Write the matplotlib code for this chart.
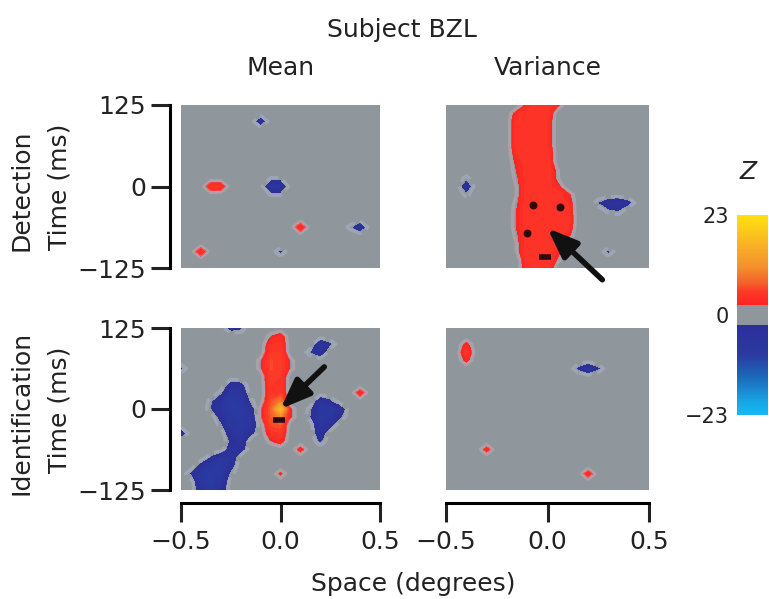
import numpy as np
import matplotlib
matplotlib.use("Agg")
import matplotlib.pyplot as plt
from matplotlib.colors import LinearSegmentedColormap, Normalize
from matplotlib.cm import ScalarMappable

plt.rcParams["font.family"] = "DejaVu Sans"

# sampling grid of the Z maps
x_grid = np.linspace(-0.5, 0.5, 21)      # space (degrees), 0.05 steps
t_grid = np.linspace(-125, 125, 21)      # time (ms), 12.5 ms steps

# Z values per grid row: (time, first x, values at consecutive x nodes); all other nodes are 0
mean_det_rows = [
    (100.0, -0.10, [-5]),
    (12.5, -0.05, [-1.5, -1.5]),
    (0.0, -0.35, [5, 4.5]),
    (0.0, -0.05, [-7, -7]),
    (-12.5, -0.05, [-1.5, -1.5]),
    (-62.5, 0.10, [5]),
    (-62.5, 0.35, [-2, -6]),
    (-100.0, -0.40, [5]),
    (-100.0, 0.0, [-3]),
]

var_det_rows = [
    (125.0, -0.10, [3, 5, 5, 3]),
    (112.5, -0.15, [3.5, 5, 5, 5]),
    (100.0, -0.15, [5, 5, 5, 4]),
    (87.5, -0.15, [5, 5, 5, 4]),
    (75.0, -0.15, [5, 5, 5, 4]),
    (62.5, -0.15, [5, 5, 5, 4]),
    (50.0, -0.15, [4, 5, 5, 5]),
    (37.5, -0.15, [3, 5, 5, 5]),
    (25.0, -0.15, [2.5, 5, 5, 5, 1.5]),
    (12.5, -0.15, [2, 5, 5, 5, 1.5]),
    (12.5, -0.40, [-2]),
    (0.0, -0.15, [1.5, 5, 5, 5, 3]),
    (0.0, -0.40, [-5]),
    (-12.5, -0.15, [1.5, 5, 5, 5, 5, 3]),
    (-12.5, -0.40, [-2]),
    (-25.0, -0.15, [2, 5, 5, 5, 5, 4]),
    (-25.0, 0.25, [-2.5, -5, -6, -3.5]),
    (-37.5, -0.15, [2.5, 5, 5, 5, 5, 4.5]),
    (-37.5, 0.30, [-2, -2.5]),
    (-50.0, -0.15, [2.5, 5, 5, 5, 5, 5]),
    (-62.5, -0.15, [2.5, 5, 5, 5, 5, 4.5]),
    (-75.0, -0.15, [2, 5, 5, 5, 5, 3]),
    (-87.5, -0.15, [1.5, 5, 5, 5, 5]),
    (-100.0, -0.15, [1.5, 5, 5, 5, 3]),
    (-100.0, 0.30, [-3]),
    (-112.5, -0.10, [5, 5, 5, 2]),
    (-125.0, -0.10, [4.5, 5, 5]),
]

mean_id_rows = [
    (125.0, -0.25, [-4, -3]),
    (112.5, -0.05, [2, 3.5]),
    (100.0, -0.05, [4, 4.5]),
    (100.0, 0.20, [-6, -3]),
    (87.5, -0.05, [5, 5]),
    (87.5, 0.15, [-2.5, -6]),
    (75.0, -0.10, [2, 6, 5.5, 2]),
    (62.5, -0.10, [2, 6, 5.5, 2]),
    (62.5, -0.50, [-3]),
    (50.0, -0.05, [5.5, 5]),
    (37.5, -0.25, [-4, -3.5]),
    (37.5, -0.05, [5, 5]),
    (25.0, -0.30, [-2, -7, -6.5]),
    (25.0, -0.05, [4.5, 5]),
    (25.0, 0.40, [4]),
    (12.5, -0.35, [-2, -5, -9, -8, -2]),
    (12.5, -0.05, [6, 9]),
    (12.5, 0.20, [-5, -3]),
    (0.0, -0.35, [-2.5, -6, -9, -9, -5]),
    (0.0, -0.10, [2, 7, 17, 2.5]),
    (0.0, 0.15, [-2, -7, -8, -5]),
    (-12.5, -0.30, [-4, -8, -9, -6]),
    (-12.5, -0.10, [2, 6.5, 10, 2.5]),
    (-12.5, 0.15, [-2.5, -8, -7, -3]),
    (-25.0, -0.30, [-2, -7, -8, -6]),
    (-25.0, -0.05, [6, 6.5]),
    (-25.0, 0.20, [-7, -4]),
    (-37.5, -0.50, [-5]),
    (-37.5, -0.25, [-5, -7, -4]),
    (-37.5, -0.05, [4, 5]),
    (-37.5, 0.20, [-5.5]),
    (-50.0, -0.25, [-3, -6]),
    (-50.0, -0.05, [2, 3.5]),
    (-50.0, 0.20, [-3]),
    (-62.5, -0.25, [-4.5, -4.5]),
    (-62.5, 0.10, [3.5]),
    (-75.0, -0.35, [-3, -7, -6]),
    (-87.5, -0.40, [-4, -8, -9, -4]),
    (-100.0, -0.45, [-3, -8, -9, -8, -2]),
    (-100.0, 0.0, [2.8]),
    (-112.5, -0.40, [-7, -9, -7]),
    (-125.0, -0.40, [-5, -8, -5]),
]

var_id_rows = [
    (100.0, -0.40, [3]),
    (87.5, -0.40, [5]),
    (75.0, -0.40, [3]),
    (62.5, 0.15, [-3, -7, -3]),
    (-62.5, -0.30, [3.5]),
    (-100.0, 0.20, [4]),
]

# dark spots inside the strongest regions
var_det_spots_x = [-0.07, 0.062, -0.103]
var_det_spots_t = [-28, -31, -72]
var_det_dash_x = [-0.012]
var_det_dash_t = [-108]
mean_id_dash_x = [-0.01]
mean_id_dash_t = [-17]

# arrows (tail -> head)
var_det_arrow = ((0.27, -143), (0.0, -64))
mean_id_arrow = ((0.22, 65), (0.0, 0.0))

z_limit = 23
z_ticks = [-23, 0, 23]


def to_grid(rows):
    z = np.zeros((t_grid.size, x_grid.size))
    for t, x0, vals in rows:
        i = int(round((t + 125) / 12.5))
        j = int(round((x0 + 0.5) / 0.05))
        z[i, j:j + len(vals)] = vals
    return z


cmap = LinearSegmentedColormap.from_list("zmap", [
    (0.0, "#17b8f2"),
    (0.06, "#16a8e8"),
    (0.18, "#1b6cbd"),
    (0.30, "#2a3aa2"),
    (0.4499, "#2c2f98"),
    (0.45, "#8f979c"),
    (0.55, "#8f979c"),
    (0.5501, "#ff2222"),
    (0.62, "#fb3a28"),
    (0.66, "#f5602a"),
    (0.74, "#f5902c"),
    (0.86, "#f8b424"),
    (0.93, "#fccc1a"),
    (1.0, "#ffe012"),
])
norm = Normalize(-z_limit, z_limit)
levels = np.r_[np.linspace(-23, -2.3, 24), np.linspace(2.3, 23, 24)]

fig = plt.figure(figsize=(7.69, 5.99), dpi=100)
W, H = 769, 599

panels = [
    (181, 105, 199, 163, mean_det_rows, "tl"),
    (446, 105, 203, 163, var_det_rows, "tr"),
    (181, 328, 199, 162, mean_id_rows, "bl"),
    (446, 328, 203, 162, var_id_rows, "br"),
]

axes = {}
for left, top, w, h, rows, key in panels:
    ax = fig.add_axes([left / W, 1 - (top + h) / H, w / W, h / H])
    z = to_grid(rows)
    ax.contourf(x_grid, t_grid, z, levels=levels, cmap=cmap, norm=norm)
    # pale rim just outside each significant region
    ax.contour(x_grid, t_grid, z, levels=[1.4], colors="#d6b0b8", linewidths=2.5, alpha=0.4)
    ax.contour(x_grid, t_grid, z, levels=[-1.4], colors="#b4b9d6", linewidths=2.5, alpha=0.4)
    ax.set_xlim(-0.5, 0.5)
    ax.set_ylim(-125, 125)
    for s in ["top", "right"]:
        ax.spines[s].set_visible(False)
    ax.tick_params(direction="out", length=14, width=2.2, labelsize=18, pad=3,
                   colors="#222222")
    if key[1] == "l":
        ax.spines["left"].set_position(("outward", 8))
        ax.spines["left"].set_linewidth(2.2)
        ax.set_yticks([-125, 0, 125], ["\u2212125", "0", "125"])
    else:
        ax.spines["left"].set_visible(False)
        ax.set_yticks([])
    if key[0] == "b":
        ax.spines["bottom"].set_position(("outward", 9))
        ax.spines["bottom"].set_linewidth(2.2)
        ax.set_xticks([-0.5, 0, 0.5], ["\u22120.5", "0.0", "0.5"])
        ax.tick_params(axis="x", pad=6)
    else:
        ax.spines["bottom"].set_visible(False)
        ax.set_xticks([])
    axes[key] = ax

ax = axes["tr"]
ax.scatter(var_det_spots_x, var_det_spots_t, s=22, color="#2a0c0c", zorder=3)
ax.plot(var_det_dash_x, var_det_dash_t, ls="none", marker="_", ms=9, mew=4,
        color="#2a0c0c", zorder=3)
ax = axes["bl"]
ax.plot(mean_id_dash_x, mean_id_dash_t, ls="none", marker="_", ms=9, mew=4,
        color="#2a0c0c", zorder=3)

for key, (tail, head) in [("tr", var_det_arrow), ("bl", mean_id_arrow)]:
    axes[key].annotate("", xy=head, xytext=tail, annotation_clip=False,
                       arrowprops=dict(arrowstyle="-|>,head_length=0.9,head_width=0.35",
                                       lw=4, color="#111111", shrinkA=0, shrinkB=0,
                                       mutation_scale=20, clip_on=False))

# colour bar
cax = fig.add_axes([737 / W, 1 - 415 / H, 31 / W, 200 / H])
cb = fig.colorbar(ScalarMappable(norm=norm, cmap=cmap), cax=cax)
cb.outline.set_visible(False)
cax.yaxis.set_ticks_position("left")
cax.set_yticks(z_ticks, ["\u221223", "0", "23"])
cax.tick_params(length=0, labelsize=15, pad=6, colors="#222222")
fig.text(748 / W, 1 - 172 / H, "Z", style="italic", fontsize=18, ha="center",
         va="center", color="#222222")

txt = dict(fontsize=18, ha="center", va="center", color="#222222")
fig.text(402 / W, 1 - 30 / H, "Subject BZL", **txt)
fig.text(281 / W, 1 - 68 / H, "Mean", **txt)
fig.text(548 / W, 1 - 68 / H, "Variance", **txt)
fig.text(22 / W, 1 - 190 / H, "Detection", rotation=90, **txt)
fig.text(60 / W, 1 - 187 / H, "Time (ms)", rotation=90, **txt)
fig.text(22 / W, 1 - 413 / H, "Identification", rotation=90, **txt)
fig.text(60 / W, 1 - 410 / H, "Time (ms)", rotation=90, **txt)
fig.text(413 / W, 1 - 584 / H, "Space (degrees)", **txt)

fig.savefig("out.png", dpi=100)
